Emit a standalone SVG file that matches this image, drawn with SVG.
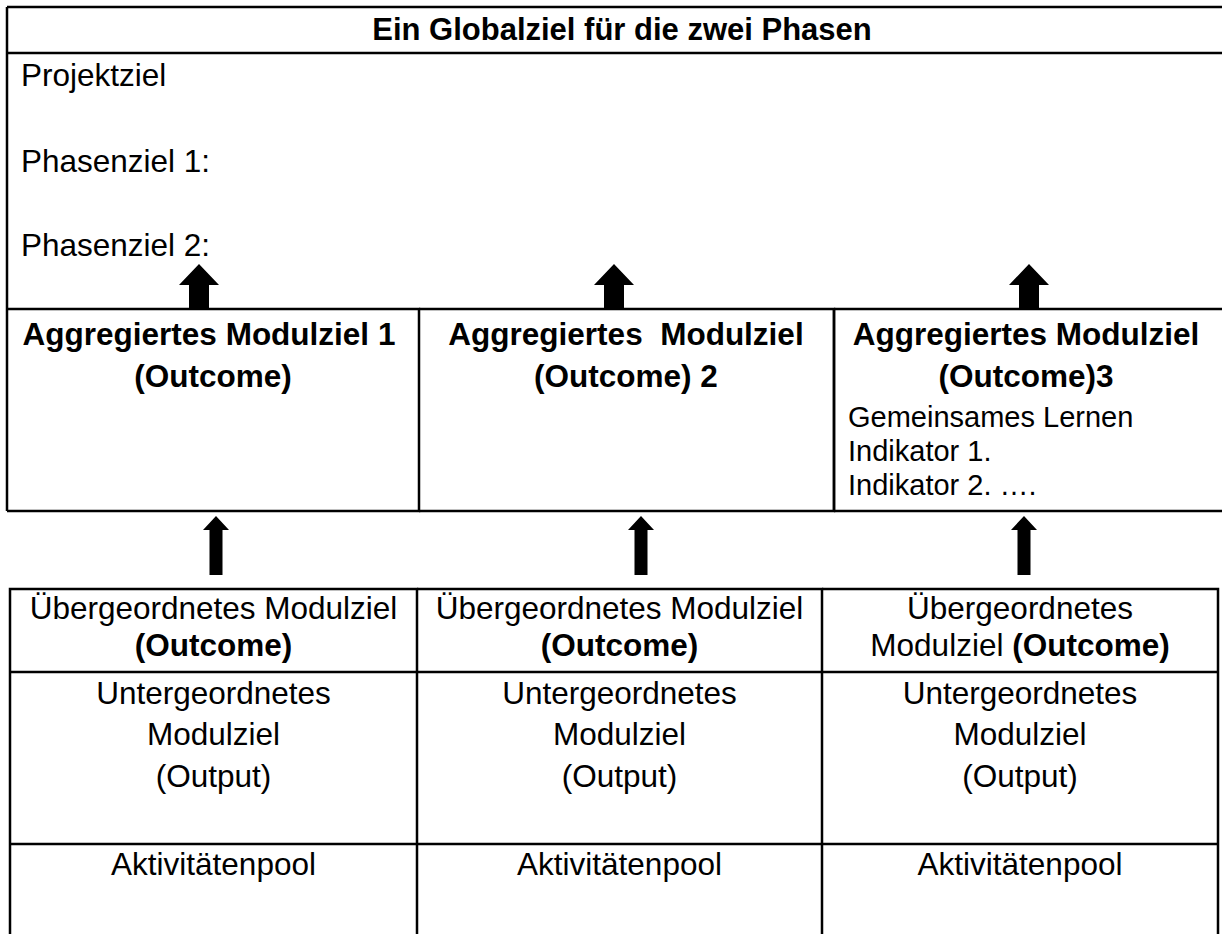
<svg xmlns="http://www.w3.org/2000/svg" width="1222" height="934" viewBox="0 0 1222 934">
<style>
.ln{stroke:#000;stroke-width:2.5;fill:none}
text{font-family:"Liberation Sans",Arial,sans-serif;font-size:31.5px;fill:#000}
.b{font-weight:bold}
.c{text-anchor:middle}
.h{font-size:31px}
.s{font-size:29px}
.ar{fill:#000;stroke:none}
</style>
<rect width="1222" height="934" fill="#fff"/>
<g id="globalziel">
<path class="ln" d="M7,7H1224M7,53H1224M7,7V511"/>
<text class="b c h" x="622" y="40">Ein Globalziel für die zwei Phasen</text>
<text x="21" y="86">Projektziel</text>
<text x="21" y="172">Phasenziel 1:</text>
<text x="21" y="256">Phasenziel 2:</text>
</g>
<g id="aggregiert1">
<path class="ln" d="M7,309H419V511H7"/>
<text class="b c" x="209" y="345">Aggregiertes Modulziel 1</text>
<text class="b c" x="213" y="387">(Outcome)</text>
</g>
<g id="aggregiert2">
<path class="ln" d="M419,309H834V511H419"/>
<text class="b c" x="626" y="345" xml:space="preserve">Aggregiertes  Modulziel</text>
<text class="b c" x="626" y="387">(Outcome) 2</text>
</g>
<g id="aggregiert3">
<path class="ln" d="M834,309H1224M834,511H1224M834,309V511"/>
<text class="b c" x="1026" y="345">Aggregiertes Modulziel</text>
<text class="b c" x="1026" y="387">(Outcome)3</text>
<text class="s" x="848" y="427">Gemeinsames Lernen</text>
<text class="s" x="848" y="461">Indikator 1.</text>
<text class="s" x="848" y="495">Indikator 2. ….</text>
</g>
<g id="modul1">
<path class="ln" d="M10,936V589H417V936M10,672H417M10,844H417"/>
<text class="c" x="213.5" y="619">Übergeordnetes Modulziel</text>
<text class="b c" x="213.5" y="656">(Outcome)</text>
<text class="c" x="213.5" y="704">Untergeordnetes</text>
<text class="c" x="213.5" y="745">Modulziel</text>
<text class="c" x="213.5" y="787">(Output)</text>
<text class="c" x="213.5" y="875">Aktivitätenpool</text>
</g>
<g id="modul2">
<path class="ln" d="M417,589H822V936M417,672H822M417,844H822"/>
<text class="c" x="619.5" y="619">Übergeordnetes Modulziel</text>
<text class="b c" x="619.5" y="656">(Outcome)</text>
<text class="c" x="619.5" y="704">Untergeordnetes</text>
<text class="c" x="619.5" y="745">Modulziel</text>
<text class="c" x="619.5" y="787">(Output)</text>
<text class="c" x="619.5" y="875">Aktivitätenpool</text>
</g>
<g id="modul3">
<path class="ln" d="M822,589H1218V936M822,672H1218M822,844H1218"/>
<text class="c" x="1020" y="619">Übergeordnetes</text>
<text class="c" x="1020" y="656">Modulziel <tspan class="b">(Outcome)</tspan></text>
<text class="c" x="1020" y="704">Untergeordnetes</text>
<text class="c" x="1020" y="745">Modulziel</text>
<text class="c" x="1020" y="787">(Output)</text>
<text class="c" x="1020" y="875">Aktivitätenpool</text>
</g>
<g id="connectors">
<path class="ar" d="M199,264L219,285H209V309H189V285H179Z"/>
<path class="ar" d="M614,264L634,285H624V309H604V285H594Z"/>
<path class="ar" d="M1029,264L1049,285H1039V309H1019V285H1009Z"/>
<path class="ar" d="M216,516L229,530H222.5V575H209.5V530H203Z"/>
<path class="ar" d="M641,516L654,530H647.5V575H634.5V530H628Z"/>
<path class="ar" d="M1024,516L1037,530H1030.5V575H1017.5V530H1011Z"/>
</g>
</svg>
